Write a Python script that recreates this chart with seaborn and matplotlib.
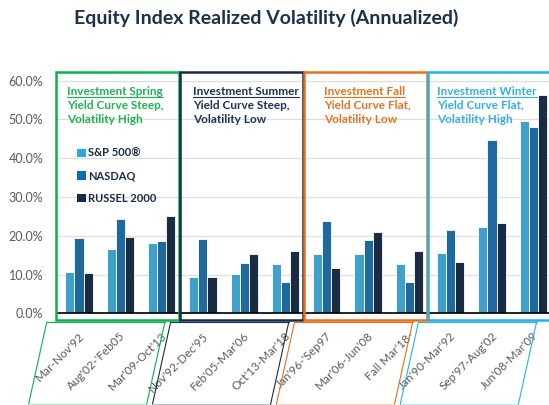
import numpy as np
import pandas as pd
import seaborn as sns
import matplotlib.pyplot as plt
from matplotlib.patches import Rectangle, Patch
from matplotlib.lines import Line2D
import matplotlib.transforms as mtransforms

# Données
periods = ["Mar-Nov'92", "Aug'02-'Feb05", "Mar'09-Oct'13",
           "Nov'92-Dec'95", "Feb'05-Mar'06", "Oct'13-Mar'18",
           "Jan'96-'Sep97", "Mar'06-Jun'08", "Fall Mar'18-",
           "Jan'90-Mar'92", "Sep'97-Aug'02", "Jun'08-Mar'09"]
indices = ["S&P 500®", "NASDAQ", "RUSSEL 2000"]
sp500 = [10.6, 16.6, 18.2, 9.4, 10.1, 12.6, 15.4, 15.4, 12.6, 15.5, 22.2, 49.5]
nasdaq = [19.3, 24.4, 18.6, 19.1, 13.0, 8.2, 23.8, 18.9, 8.2, 21.5, 44.8, 48.0]
russell = [10.3, 19.8, 25.1, 9.4, 15.4, 16.2, 11.8, 20.9, 16.2, 13.2, 23.4, 56.3]
seasons = ["Investment Spring", "Investment Summer", "Investment Fall", "Investment Winter"]
season_lines = ["Yield Curve Steep,\nVolatility High", "Yield Curve Steep,\nVolatility Low",
                "Yield Curve Flat,\nVolatility Low", "Yield Curve Flat,\nVolatility High"]

bar_colors = ["#29A9E1", "#0A6DB4", "#132B4B"]
season_colors = ["#0BB14C", "#162C4E", "#E56F1D", "#22B3E9"]
season_text_colors = ["#1DB350", "#1C3155", "#E8731E", "#33AEE6"]
text_x = [-0.29, 2.76, 5.93, 8.67]

df = pd.DataFrame({
    "period": np.repeat(periods, 3),
    "index": indices * len(periods),
    "value": np.column_stack([sp500, nasdaq, russell]).ravel(),
})

sns.set_style("white")
plt.rcParams["font.family"] = ["Lato", "DejaVu Sans"]

fig = plt.figure(figsize=(5.49, 4.05), dpi=100)
ax = fig.add_axes([0.104, 0.207, 0.896, 0.6325])

sns.barplot(data=df, x="period", y="value", hue="index", hue_order=indices,
            palette=bar_colors, width=0.66, edgecolor="white", linewidth=0.6,
            legend=False, ax=ax)

ax.set_xlim(-0.53, 11.38)
ax.set_ylim(-2, 64)
ax.set_yticks(range(0, 61, 10))
ax.set_yticklabels([f"{v:.1f}%" for v in range(0, 61, 10)], color="#5a5a5a", fontsize=9)
ax.tick_params(axis="y", length=0, pad=10)
ax.grid(axis="y", color="#dedede", lw=0.9)
ax.set_axisbelow(True)
ax.set_xlabel("")
ax.set_ylabel("")
ax.set_xticks([])
sns.despine(ax=ax, left=True, bottom=True)
ax.axhline(0, color="black", lw=1.2, zorder=3)

# étiquettes des périodes
lab_tr = mtransforms.blended_transform_factory(ax.transData, fig.transFigure)
for i, p in enumerate(periods):
    ax.text(i + 0.08, (405 - 334) / 405, p, transform=lab_tr, rotation=45,
            rotation_mode="anchor", ha="right", va="center",
            fontsize=8.5, color="#5a5a5a")

# cadres des saisons + parallélogrammes
for k in range(4):
    ax.add_patch(Rectangle((3 * k - 0.56, -1.8), 2.98, 64.0, fill=False,
                           ec=season_colors[k], lw=1.8, clip_on=False, zorder=4))
    x0, x1 = 3 * k - 0.78, 3 * k + 2.08
    yt, yb = (405 - 322) / 405, (405 - 404) / 405
    sh = 0.44
    for xs, ys, a in [([x0, x1], [yt, yt], 1), ([x0, x0 - sh], [yt, yb], 1),
                      ([x1, x1 - sh], [yt, yb], 1), ([x0 - sh, x1 - sh], [yb, yb], 0.3)]:
        fig.add_artist(Line2D(xs, ys, transform=lab_tr, color=season_colors[k],
                              lw=0.8, alpha=a))

head_texts = []
for k in range(4):
    t = ax.text(text_x[k], 56.2, seasons[k], color=season_text_colors[k],
                fontsize=8.5, fontweight="bold", va="baseline", ha="left")
    head_texts.append(t)
    ax.text(text_x[k], 49.0, season_lines[k], color=season_text_colors[k],
            fontsize=8.5, fontweight="bold", va="baseline", ha="left", linespacing=1.4)

handles = [Patch(facecolor=c, edgecolor="none") for c in bar_colors]
leg = ax.legend(handles, indices, loc="upper left", bbox_to_anchor=(0.041, 0.677),
                frameon=False, borderpad=0, borderaxespad=0, handlelength=0.75,
                handleheight=0.75, handletextpad=0.25, labelspacing=1.05,
                prop={"weight": "bold", "size": 8})
for t in leg.get_texts():
    t.set_color("#1a2a44")

fig.suptitle("Equity Index Realized Volatility (Annualized)", x=0.485, y=0.978,
             fontsize=14, fontweight="bold", color="#1B2F4E")

# soulignement des titres de saison
fig.canvas.draw()
r = fig.canvas.get_renderer()
inv = ax.transData.inverted()
for k, t in enumerate(head_texts):
    bb = t.get_window_extent(r)
    xa = inv.transform((bb.x0, 0))[0]
    xb = inv.transform((bb.x1, 0))[0]
    ax.plot([xa, xb], [55.7, 55.7], color=season_text_colors[k], lw=0.8)

fig.savefig("out.png", dpi=100)
